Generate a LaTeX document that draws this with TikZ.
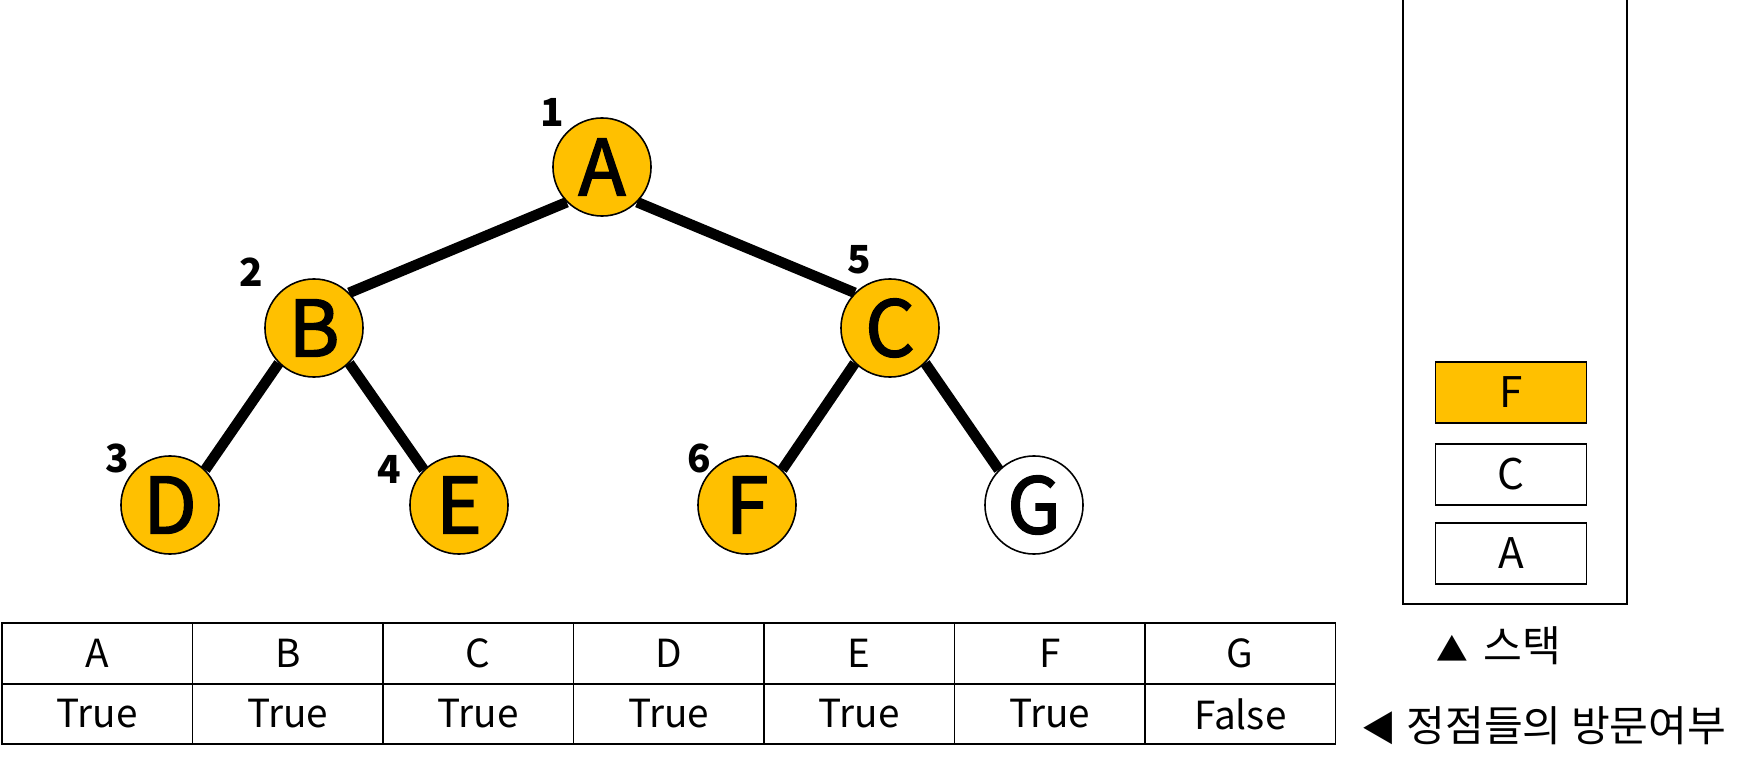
\documentclass[tikz,border=0pt]{standalone}
\usepackage{fontspec}
\setmainfont{Noto Sans CJK KR}
\newfontfamily\vertexfont[FakeBold=2.2]{Noto Sans CJK KR}
\definecolor{visited}{HTML}{FFC000}
\tikzset{
    vertex/.style={circle, draw, line width=0.45pt, minimum size=0.98cm, inner sep=0pt, font=\vertexfont\fontsize{22}{22}\selectfont},
    order/.style={font=\fontsize{11}{11}\selectfont\bfseries},
    edge/.style={line width=3pt},
    cell/.style={draw, line width=0.5pt, minimum width=1.905cm, minimum height=0.605cm, inner sep=0pt, font=\fontsize{11}{11}\selectfont},
    slot/.style={draw, line width=0.5pt, minimum width=1.51cm, minimum height=0.61cm, inner sep=0pt, font=\fontsize{12}{12}\selectfont},
    legend/.style={font=\fontsize{12}{12}\selectfont, inner sep=0pt}
}
\begin{document}
\begin{tikzpicture}[x=0.01cm, y=-0.01cm]
        \useasboundingbox (0,0) rectangle (1742,770);
        % tree
        \node[vertex, fill=visited] (A) at (602,167) {A};
        \node[vertex, fill=visited] (B) at (314,328) {B};
        \node[vertex, fill=visited] (C) at (890,328) {C};
        \node[vertex, fill=visited] (D) at (170,505) {D};
        \node[vertex, fill=visited] (E) at (459,505) {E};
        \node[vertex, fill=visited] (F) at (747,505) {F};
        \node[vertex] (G) at (1034,505) {G};
        \draw[edge] (A.south west) -- (B.north east);
        \draw[edge] (A.south east) -- (C.north west);
        \draw[edge] (B.south west) -- (D.north east);
        \draw[edge] (B.south east) -- (E.north west);
        \draw[edge] (C.south west) -- (F.north east);
        \draw[edge] (C.south east) -- (G.north west);
        % visiting order
        \node[order] (o1) at (552,112) {1};
        \node[order] (o2) at (251,272) {2};
        \node[order] (o3) at (117,458) {3};
        \node[order] (o4) at (389,469) {4};
        \node[order] (o5) at (859,260) {5};
        \node[order] (o6) at (699,458) {6};
        % visited table
        \foreach \v/\t [count=\i from 0] in {A/True,B/True,C/True,D/True,E/True,F/True,G/False} {
            \node[cell] (h\v) at (97.3+190.5*\i,653.5) {\v};
            \node[cell] (t\v) at (97.3+190.5*\i,714) {\t};
        }
        % stack
        \draw[line width=0.6pt] (1403,0) -- (1403,604) -- (1627,604) -- (1627,0);
        \node[slot, fill=visited] (sF) at (1511,392.5) {F};
        \node[slot] (sC) at (1511,474.5) {C};
        \node[slot] (sA) at (1511,553.5) {A};
        % legend
        \node[legend, anchor=west] (lstack) at (1436,646) {{\fontsize{9}{9}\selectfont ▲}\hspace{4.3pt}스택};
        \node[legend, anchor=west] (lvisit) at (1361,726) {{\fontsize{10}{10}\selectfont ◀}\hspace{2.7pt}정점들의 방문여부};
\end{tikzpicture}
\end{document}
